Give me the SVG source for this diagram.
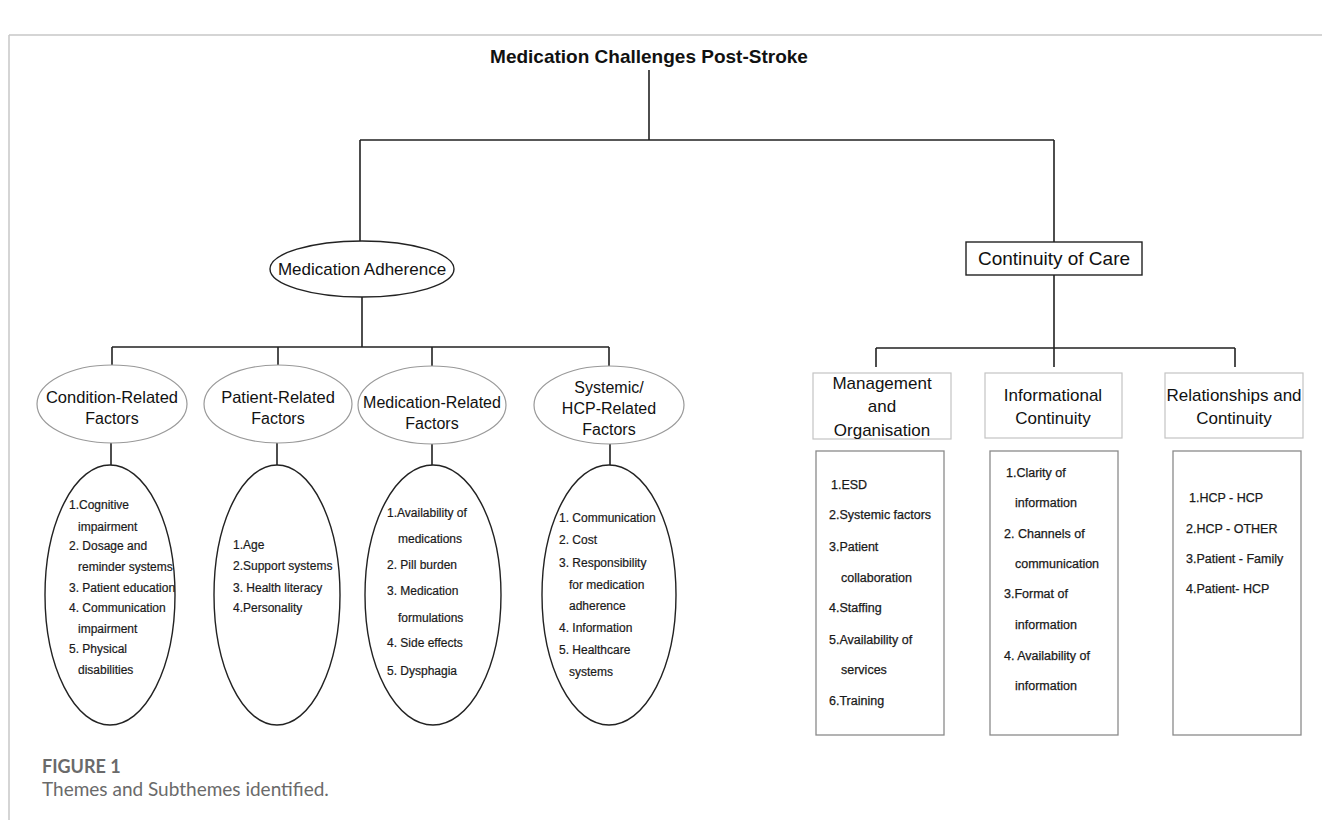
<svg xmlns="http://www.w3.org/2000/svg" width="1322" height="820" viewBox="0 0 1322 820">
<style>
.bg{fill:#fff}
.frame{stroke:#c8c8c8;stroke-width:1.5;fill:none}
.ln{stroke:#222;stroke-width:1.6;fill:none}
.t{font-family:"Liberation Sans",Arial,sans-serif;fill:#111}
.title{font-size:19px;font-weight:bold}
.h1{font-size:17px}
.h2{font-size:16px}
.h3{font-size:17px}
.li{font-size:12px;fill:#1a1a1a;stroke:#1a1a1a;stroke-width:0.2}
.lr{font-size:12.5px;fill:#1a1a1a;stroke:#1a1a1a;stroke-width:0.25}
.mid{text-anchor:middle}
.ell1{fill:#fff;stroke:#222;stroke-width:1.4}
.ell2{fill:#fff;stroke:#999;stroke-width:1.2}
.big{fill:#fff;stroke:#222;stroke-width:1.4}
.box1{fill:#fff;stroke:#222;stroke-width:1.4}
.box2{fill:#fff;stroke:#c4c4c4;stroke-width:1.2}
.box3{fill:#fff;stroke:#8a8a8a;stroke-width:1.3}
.cap{font-family:Lato,"Liberation Sans",sans-serif;fill:#6a6a6a}
</style>
<rect class="bg" x="0" y="0" width="1322" height="820"/>
<path class="frame" d="M9,35 H1322 M9,35 V820"/>

<g id="connectors">
<path class="ln" d="M649,70 V140 M360,140 H1054 M360,140 V241 M1054,140 V242"/>
<path class="ln" d="M362,297 V347 M112,347 H609 M112,347 V366 M278,347 V366 M432,347 V366 M609,347 V366"/>
<path class="ln" d="M111,443 V465 M277,443 V465 M432,444 V465 M610,444 V465"/>
<path class="ln" d="M1054,275 V348 M876,348 H1235 M876,348 V367 M1054,348 V367 M1235,348 V367"/>
</g>

<g id="title"><text class="t title mid" x="649" y="63">Medication Challenges Post-Stroke</text></g>

<g id="medication-adherence">
<ellipse class="ell1" cx="362" cy="269" rx="92" ry="28"/>
<text class="t h1 mid" x="362" y="275">Medication Adherence</text>
</g>

<g id="continuity-of-care">
<rect class="box1" x="966" y="242" width="176" height="33"/>
<text class="t mid" style="font-size:19px" x="1054" y="265">Continuity of Care</text>
</g>

<g id="condition-related">
<ellipse class="ell2" cx="112" cy="404" rx="75" ry="39"/>
<text class="t mid" style="font-size:16.5px" x="112" y="403">Condition-Related</text>
<text class="t h2 mid" x="112" y="424">Factors</text>
</g>
<g id="patient-related">
<ellipse class="ell2" cx="278" cy="404" rx="74" ry="39"/>
<text class="t mid" style="font-size:16.5px" x="278" y="403">Patient-Related</text>
<text class="t h2 mid" x="278" y="424">Factors</text>
</g>
<g id="medication-related">
<ellipse class="ell2" cx="432" cy="405" rx="74" ry="39"/>
<text class="t h2 mid" x="432" y="408">Medication-Related</text>
<text class="t h2 mid" x="432" y="429">Factors</text>
</g>
<g id="systemic-related">
<ellipse class="ell2" cx="609" cy="405" rx="75" ry="39"/>
<text class="t h2 mid" x="609" y="393">Systemic/</text>
<text class="t h2 mid" x="609" y="414">HCP-Related</text>
<text class="t h2 mid" x="609" y="435">Factors</text>
</g>

<g id="condition-list">
<ellipse class="big" cx="110" cy="595" rx="65" ry="130"/>
<text class="t li" x="69" y="509">1.Cognitive</text>
<text class="t li" x="78" y="531">impairment</text>
<text class="t li" x="69" y="550">2. Dosage and</text>
<text class="t li" x="78" y="571">reminder systems</text>
<text class="t li" x="69" y="592">3. Patient education</text>
<text class="t li" x="69" y="612">4. Communication</text>
<text class="t li" x="78" y="633">impairment</text>
<text class="t li" x="69" y="653">5. Physical</text>
<text class="t li" x="78" y="674">disabilities</text>
</g>
<g id="patient-list">
<ellipse class="big" cx="277" cy="595" rx="63" ry="130"/>
<text class="t li" x="233" y="549">1.Age</text>
<text class="t li" x="233" y="570">2.Support systems</text>
<text class="t li" x="233" y="592">3. Health literacy</text>
<text class="t li" x="233" y="612">4.Personality</text>
</g>
<g id="medication-list">
<ellipse class="big" cx="433" cy="595" rx="68" ry="130"/>
<text class="t li" x="387" y="517">1.Availability of</text>
<text class="t li" x="398" y="543">medications</text>
<text class="t li" x="387" y="569">2. Pill burden</text>
<text class="t li" x="387" y="595">3. Medication</text>
<text class="t li" x="398" y="622">formulations</text>
<text class="t li" x="387" y="647">4. Side effects</text>
<text class="t li" x="387" y="675">5. Dysphagia</text>
</g>
<g id="systemic-list">
<ellipse class="big" cx="609" cy="595" rx="67" ry="130"/>
<text class="t li" x="559" y="522">1. Communication</text>
<text class="t li" x="559" y="544">2. Cost</text>
<text class="t li" x="559" y="567">3. Responsibility</text>
<text class="t li" x="569" y="589">for medication</text>
<text class="t li" x="569" y="610">adherence</text>
<text class="t li" x="559" y="632">4. Information</text>
<text class="t li" x="559" y="654">5. Healthcare</text>
<text class="t li" x="569" y="676">systems</text>
</g>

<g id="management">
<rect class="box2" x="813" y="373" width="138" height="66"/>
<text class="t h3 mid" x="882" y="389">Management</text>
<text class="t h3 mid" x="882" y="412">and</text>
<text class="t h3 mid" x="882" y="436">Organisation</text>
</g>
<g id="informational">
<rect class="box2" x="985" y="373" width="137" height="65"/>
<text class="t h3 mid" x="1053" y="401">Informational</text>
<text class="t h3 mid" x="1053" y="424">Continuity</text>
</g>
<g id="relationships">
<rect class="box2" x="1165" y="373" width="138" height="65"/>
<text class="t h3 mid" x="1234" y="401">Relationships and</text>
<text class="t h3 mid" x="1234" y="424">Continuity</text>
</g>

<g id="management-list">
<rect class="box3" x="816" y="451" width="128" height="284"/>
<text class="t lr" x="831" y="489">1.ESD</text>
<text class="t lr" x="829" y="519">2.Systemic factors</text>
<text class="t lr" x="829" y="551">3.Patient</text>
<text class="t lr" x="841" y="582">collaboration</text>
<text class="t lr" x="829" y="612">4.Staffing</text>
<text class="t lr" x="829" y="644">5.Availability of</text>
<text class="t lr" x="841" y="674">services</text>
<text class="t lr" x="829" y="705">6.Training</text>
</g>
<g id="informational-list">
<rect class="box3" x="990" y="451" width="128" height="284"/>
<text class="t lr" x="1006" y="477">1.Clarity of</text>
<text class="t lr" x="1015" y="507">information</text>
<text class="t lr" x="1004" y="538">2. Channels of</text>
<text class="t lr" x="1015" y="568">communication</text>
<text class="t lr" x="1004" y="598">3.Format of</text>
<text class="t lr" x="1015" y="629">information</text>
<text class="t lr" x="1004" y="660">4. Availability of</text>
<text class="t lr" x="1015" y="690">information</text>
</g>
<g id="relationships-list">
<rect class="box3" x="1173" y="451" width="128" height="284"/>
<text class="t lr" x="1189" y="502">1.HCP - HCP</text>
<text class="t lr" x="1186" y="533">2.HCP - OTHER</text>
<text class="t lr" x="1186" y="563">3.Patient - Family</text>
<text class="t lr" x="1186" y="593">4.Patient- HCP</text>
</g>

<g id="caption">
<text class="cap" x="42" y="773" style="font-size:18px;font-weight:bold">FIGURE 1</text>
<text class="cap" x="42" y="796" style="font-size:19px">Themes and Subthemes identified.</text>
</g>
</svg>
